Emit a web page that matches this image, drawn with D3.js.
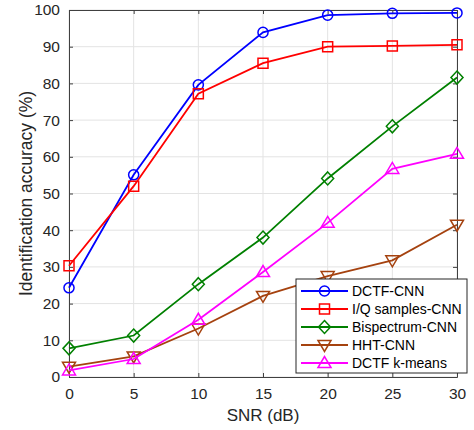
<!DOCTYPE html>
<html>
<head>
<meta charset="utf-8">
<script src="https://cdn.jsdelivr.net/npm/d3@7"></script>
<style>
  body { margin: 0; background: #fff; }
  text { font-family: "Liberation Sans", Arial, sans-serif; }
</style>
</head>
<body>
<div id="chart"></div>
<script>
// SNR values (dB)
var snr = [0, 5, 10, 15, 20, 25, 30];

// accuracy (%) per method
var dctfCnn = [24.3, 55.1, 79.6, 93.9, 98.6, 99.1, 99.2];
var iqCnn = [30.3, 52.0, 77.2, 85.5, 90.0, 90.2, 90.5];
var bispCnn = [7.8, 11.3, 25.3, 38.0, 54.1, 68.3, 81.6];
var hhtCnn = [2.8, 5.6, 13.2, 22.1, 27.5, 31.8, 41.5];
var dctfKmeans = [1.8, 4.9, 15.6, 28.6, 42.0, 56.7, 60.8];

var seriesNames = ["DCTF-CNN", "I/Q samples-CNN", "Bispectrum-CNN", "HHT-CNN", "DCTF k-means"];
var xTicks = [0, 5, 10, 15, 20, 25, 30];
var yTicks = [0, 10, 20, 30, 40, 50, 60, 70, 80, 90, 100];

var svgWidth = 474;
var svgHeight = 430;
var margin = {top: 10, right: 17, bottom: 53, left: 69};
var width = svgWidth - margin.left - margin.right;
var height = svgHeight - margin.top - margin.bottom;

var svg = d3.select("#chart")
  .append("svg")
  .attr("width", svgWidth)
  .attr("height", svgHeight);

var chartGroup = svg.append("g")
  .attr("transform", `translate(${margin.left}, ${margin.top})`);

var xScale = d3.scaleLinear().domain([0, 30]).range([0, width]);
var yScale = d3.scaleLinear().domain([0, 100]).range([height, 0]);

// grid
chartGroup.append("g")
  .selectAll("line.gx")
  .data(xTicks)
  .enter()
  .append("line")
  .attr("x1", d => xScale(d)).attr("x2", d => xScale(d))
  .attr("y1", 0).attr("y2", height)
  .attr("stroke", "#e3e3e3").attr("stroke-width", 1);

chartGroup.append("g")
  .selectAll("line.gy")
  .data(yTicks)
  .enter()
  .append("line")
  .attr("x1", 0).attr("x2", width)
  .attr("y1", d => yScale(d)).attr("y2", d => yScale(d))
  .attr("stroke", "#e3e3e3").attr("stroke-width", 1);

// axes (ticks inward, box on all sides)
function styleAxis(g) {
  g.selectAll("path").attr("stroke", "#404040");
  g.selectAll("line").attr("stroke", "#404040");
  g.selectAll("text").attr("fill", "#262626").style("font-size", "15.5px");
}

chartGroup.append("g")
  .attr("transform", `translate(0, ${height})`)
  .call(d3.axisBottom(xScale).tickValues(xTicks).tickSizeInner(-4).tickSizeOuter(0).tickPadding(11))
  .call(styleAxis);

chartGroup.append("g")
  .call(d3.axisTop(xScale).tickValues(xTicks).tickSizeInner(-4).tickSizeOuter(0).tickFormat(""))
  .call(styleAxis);

chartGroup.append("g")
  .call(d3.axisLeft(yScale).tickValues(yTicks).tickSizeInner(-4).tickSizeOuter(0).tickPadding(9))
  .call(styleAxis);

chartGroup.append("g")
  .attr("transform", `translate(${width}, 0)`)
  .call(d3.axisRight(yScale).tickValues(yTicks).tickSizeInner(-4).tickSizeOuter(0).tickFormat(""))
  .call(styleAxis);

// series
var series = [
  {name: seriesNames[0], values: dctfCnn, color: "#0000ff", symbol: "circle"},
  {name: seriesNames[1], values: iqCnn, color: "#ff0000", symbol: "square"},
  {name: seriesNames[2], values: bispCnn, color: "#008000", symbol: "diamond"},
  {name: seriesNames[3], values: hhtCnn, color: "#a5420f", symbol: "tdown"},
  {name: seriesNames[4], values: dctfKmeans, color: "#ff00ff", symbol: "tup"}
];

function markerPath(sym) {
  if (sym == "circle") return d3.symbol(d3.symbolCircle, 80)();
  if (sym == "square") return "M-5,-5L5,-5L5,5L-5,5Z";
  if (sym == "diamond") return "M0,-6.5L6,0L0,6.5L-6,0Z";
  if (sym == "tdown") return "M-6.5,-4.5L6.5,-4.5L0,6.5Z";
  return "M-6.5,4.5L6.5,4.5L0,-6.5Z";
}

var line = d3.line()
  .x((d, i) => xScale(snr[i]))
  .y(d => yScale(d));

series.forEach(function(s) {
  chartGroup.append("path")
    .datum(s.values)
    .attr("d", line)
    .attr("fill", "none")
    .attr("stroke", s.color)
    .attr("stroke-width", 1.8);

  chartGroup.selectAll(null)
    .data(s.values)
    .enter()
    .append("path")
    .attr("transform", (d, i) => `translate(${xScale(snr[i])}, ${yScale(d)})`)
    .attr("d", markerPath(s.symbol))
    .attr("fill", "none")
    .attr("stroke", s.color)
    .attr("stroke-width", 1.5);
});

// legend
var legend = svg.append("g").attr("transform", "translate(296, 279)");
legend.append("rect")
  .attr("width", 171).attr("height", 94)
  .attr("fill", "#fff").attr("stroke", "#262626").attr("stroke-width", 1);

series.forEach(function(s, i) {
  var row = legend.append("g").attr("transform", `translate(0, ${12 + i * 18})`);
  row.append("line")
    .attr("x1", 5).attr("x2", 52).attr("y1", 0).attr("y2", 0)
    .attr("stroke", s.color).attr("stroke-width", 1.8);
  row.append("path")
    .attr("transform", "translate(28.5, 0)")
    .attr("d", markerPath(s.symbol))
    .attr("fill", "none").attr("stroke", s.color).attr("stroke-width", 1.5);
  row.append("text")
    .attr("x", 56).attr("y", 0).attr("dy", "0.35em")
    .attr("fill", "#000")
    .style("font-size", "14px")
    .text(s.name);
});

// axis labels
svg.append("text")
  .attr("x", margin.left + width / 2)
  .attr("y", 421)
  .attr("text-anchor", "middle")
  .attr("fill", "#262626")
  .style("font-size", "17px")
  .text("SNR (dB)");

svg.append("text")
  .attr("transform", `translate(32, ${margin.top + height / 2}) rotate(-90)`)
  .attr("text-anchor", "middle")
  .attr("fill", "#262626")
  .style("font-size", "17.5px")
  .text("Identification accuracy (%)");
</script>
</body>
</html>
